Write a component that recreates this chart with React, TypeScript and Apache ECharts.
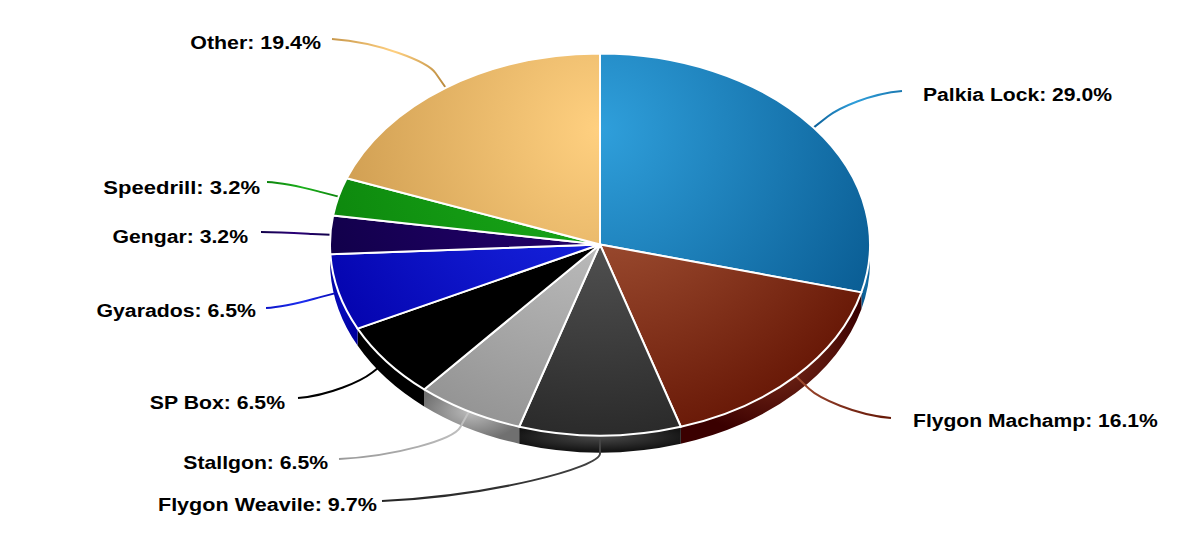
import React, { useEffect, useRef } from "react";
import * as echarts from "echarts";

const names = ["Palkia Lock", "Flygon Machamp", "Flygon Weavile", "Stallgon", "SP Box", "Gyarados", "Gengar", "Speedrill", "Other"];
const counts = [9, 5, 3, 2, 2, 2, 1, 1, 6];

// [inner colour, outer colour] of each slice's top
const topColors = [
  ["#2f9fdb", "#0a5d94"],
  ["#b26242", "#6a1a08"],
  ["#666666", "#2a2a2a"],
  ["#cfcfcf", "#959595"],
  ["#000000", "#000000"],
  ["#1d2ff0", "#0505b0"],
  ["#2a0078", "#100048"],
  ["#1bb01b", "#0c840c"],
  ["#ffd080", "#c8964a"],
];
// [centre colour, edge colour] of each slice's side wall
const wallColors = [
  ["#1a78b0", "#0a5a90"],
  ["#7f2f1c", "#3a0000"],
  ["#484848", "#141414"],
  ["#bdbdbd", "#707070"],
  ["#000000", "#000000"],
  ["#0a12c8", "#0000a0"],
  ["#1d0060", "#100048"],
  ["#129012", "#0c700c"],
  ["#d8a860", "#b08040"],
];
// [start, middle, end] of each connector
const lineColors = [
  ["#0b5f98", "#2f9fdb", "#1a78b0"],
  ["#a04c30", "#7f2f1c", "#651705"],
  ["#444444", "#303030", "#262626"],
  ["#c4c4c4", "#aaaaaa", "#9a9a9a"],
  ["#000000", "#000000", "#000000"],
  ["#0505b0", "#1d2ff0", "#0a12c8"],
  ["#100048", "#2a0078", "#100048"],
  ["#0c840c", "#1bb01b", "#0c840c"],
  ["#b8883c", "#ffd080", "#c8984c"],
];

// label layout: text anchor x, y, alignment, connector end x, y, horizontal stretch
const labelLayout: [number, number, string, number, number, number][] = [
  [923, 94, "left", 902, 91, 1.112],
  [913, 420, "left", 891, 418, 1.11],
  [377, 504, "right", 382, 501, 1.136],
  [328, 462, "right", 339, 459, 1.115],
  [285, 402, "right", 298, 398, 1.117],
  [256, 310, "right", 266, 308, 1.12],
  [248, 236, "right", 261, 232, 1.117],
  [260, 187, "right", 267, 182, 1.16],
  [321, 42, "right", 332, 39, 1.126],
];

const CX = 600, CY = 244.5, RX = 270, RY = 191, DEPTH = 17;
const total = counts.reduce((a, b) => a + b, 0);
const starts: number[] = [];
counts.reduce((acc, v, i) => { starts[i] = acc; return acc + v; }, 0);
const ang = (c: number) => (c / total) * Math.PI * 2;
const px = (a: number, r = RX) => CX + r * Math.sin(a);
const py = (a: number, r = RY) => CY - r * Math.cos(a);
const f = (n: number) => n.toFixed(2);

function topPath(a0: number, a1: number) {
  const large = a1 - a0 > Math.PI ? 1 : 0;
  return `M${CX} ${CY}L${f(px(a0))} ${f(py(a0))}A${RX} ${RY} 0 ${large} 1 ${f(px(a1))} ${f(py(a1))}Z`;
}
function wallPath(a0: number, a1: number) {
  const s = Math.max(a0, Math.PI / 2), e = Math.min(a1, (Math.PI * 3) / 2);
  if (e <= s) return null;
  return `M${f(px(s))} ${f(py(s))}A${RX} ${RY} 0 0 1 ${f(px(e))} ${f(py(e))}` +
    `L${f(px(e))} ${f(py(e) + DEPTH)}A${RX} ${RY} 0 0 0 ${f(px(s))} ${f(py(s) + DEPTH)}Z`;
}

const data = counts.map((v) => [v]);

function renderWall(params: any, api: any) {
  const i = params.dataIndex;
  const a0 = ang(starts[i]);
  const a1 = a0 + ang(api.value(0));
  const d = wallPath(a0, a1);
  if (!d) return { type: "group", children: [] };
  return {
    type: "path",
    shape: { pathData: d },
    style: {
      fill: new echarts.graphic.RadialGradient(0.5, 0.4, 0.55, [
        { offset: 0, color: wallColors[i][0] },
        { offset: 1, color: wallColors[i][1] },
      ]),
      stroke: "none",
    },
  };
}

function renderTop(params: any, api: any) {
  const i = params.dataIndex;
  const a0 = ang(starts[i]);
  const a1 = a0 + ang(api.value(0));
  return {
    type: "path",
    shape: { pathData: topPath(a0, a1) },
    style: {
      fill: new echarts.graphic.RadialGradient(600, 130, 310, [
        { offset: 0, color: topColors[i][0] },
        { offset: 1, color: topColors[i][1] },
      ], true),
      stroke: "#ffffff",
      lineWidth: 2,
      lineJoin: "round",
    },
  };
}

function renderLine(params: any, api: any) {
  const i = params.dataIndex;
  const mid = ang(starts[i]) + ang(api.value(0)) / 2;
  const [, , , ex, ey] = labelLayout[i];
  const sx = px(mid), sy = py(mid);
  const dx = Math.sin(mid), dy = -Math.cos(mid);
  const p1x = sx + 18 * dx, p1y = sy + 18 * dy;
  const cx = sx + 32 * dx, cy = sy + 32 * dy;
  const c2x = ex + (cx - ex) * 0.5, c2y = ey + (cy - ey) * 0.15;
  return {
    type: "path",
    shape: { pathData: `M${f(sx)} ${f(sy)}L${f(p1x)} ${f(p1y)}C${f(cx)} ${f(cy)} ${f(c2x)} ${f(c2y)} ${ex} ${ey}` },
    style: {
      fill: "none",
      stroke: new echarts.graphic.LinearGradient(sx, sy, ex + 0.01, ey + 0.01, [
        { offset: 0, color: lineColors[i][0] },
        { offset: 0.5, color: lineColors[i][1] },
        { offset: 1, color: lineColors[i][2] },
      ], true),
      lineWidth: 2,
    },
  };
}

function renderLabel(params: any, api: any) {
  const i = params.dataIndex;
  const [x, y, align, , , stretch] = labelLayout[i];
  const pct = ((api.value(0) / total) * 100).toFixed(1);
  return {
    type: "text",
    x,
    y,
    scaleX: stretch,
    style: {
      text: `${names[i]}: ${pct}%`,
      x: 0,
      y: 0,
      fill: "#000000",
      font: 'bold 19px "Liberation Sans", Arial, sans-serif',
      textAlign: align,
      textVerticalAlign: "middle",
    },
  };
}

export default function App() {
  const ref = useRef<HTMLDivElement>(null);
  useEffect(() => {
    const chart = echarts.init(ref.current!, undefined, { renderer: "svg" });
    const layer = (renderItem: any, z: number) => ({
      type: "custom",
      coordinateSystem: "none",
      silent: true,
      z,
      renderItem,
      data,
    });
    chart.setOption({
      animation: false,
      backgroundColor: "#ffffff",
      series: [
        layer(renderWall, 1),
        layer(renderLine, 2),
        layer(renderTop, 3),
        layer(renderLabel, 4),
      ],
    });
    return () => chart.dispose();
  }, []);
  return <div ref={ref} style={{ position: "fixed", left: 0, top: 0, width: 1200, height: 533 }} />;
}
